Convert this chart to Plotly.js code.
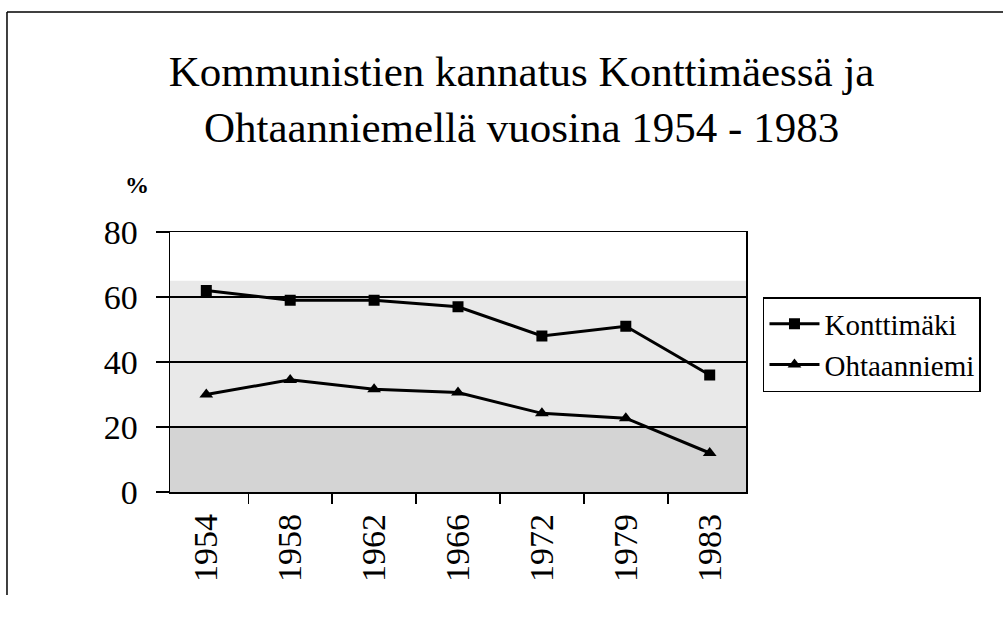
<!DOCTYPE html>
<html><head><meta charset="utf-8">
<script src="https://cdn.plot.ly/plotly-3.0.1.min.js"></script>
<style>body{margin:0;background:#fff}#c{width:1003px;height:617px}</style>
</head><body><div id="c"></div>
<script>
const years = ["1954","1958","1962","1966","1972","1979","1983"];
const konttimaki = [62, 59, 59, 57, 48, 51, 36];
const ohtaanniemi = [30, 34.5, 31.6, 30.6, 24.2, 22.7, 12];
const seriesNames = ["Konttimäki", "Ohtaanniemi"];
const titleText = "Kommunistien kannatus Konttimäessä ja<br>Ohtaanniemellä vuosina 1954 - 1983";
const yTicks = [0, 20, 40, 60, 80];

const serif = "Liberation Serif";
const traces = [
  {x: years, y: konttimaki, name: seriesNames[0], type: "scatter", mode: "lines+markers",
   line: {color: "#000", width: 3}, marker: {symbol: "square", size: 11, color: "#000"}},
  {x: years, y: ohtaanniemi, name: seriesNames[1], type: "scatter", mode: "lines+markers",
   line: {color: "#000", width: 3}, marker: {symbol: "triangle-up", size: 12, color: "#000"}}
];
const layout = {
  width: 1003, height: 617,
  margin: {l: 170, r: 257, t: 232, b: 125},
  paper_bgcolor: "#fff", plot_bgcolor: "#fff",
  font: {family: serif, color: "#000"},
  title: {text: titleText, font: {family: serif, size: 43, color: "#000"}, x: 0.52, xanchor: "center", y: 0.86, yanchor: "top"},
  showlegend: true,
  legend: {x: 1.0295, xanchor: "left", y: 0.75, yanchor: "top", bordercolor: "#000", borderwidth: 1.5,
           bgcolor: "#fff", font: {family: serif, size: 29, color: "#000"}, tracegroupgap: 8, itemwidth: 50,
           entrywidth: 260, entrywidthmode: "pixels"},
  xaxis: {type: "category", tickson: "boundaries", ticks: "outside", ticklen: 10, tickwidth: 1.5, tickcolor: "#000",
          tickangle: -90, tickfont: {family: serif, size: 34}, ticklabelstandoff: 7, showline: true, linecolor: "#000", linewidth: 1.5,
          mirror: true, showgrid: false, fixedrange: true},
  yaxis: {range: [0, 80], tickvals: yTicks, ticks: "outside", ticklen: 13, tickwidth: 1.5, tickcolor: "#000",
          tickfont: {family: serif, size: 34}, ticklabelstandoff: 11, showline: true, linecolor: "#000", linewidth: 1.5, mirror: true,
          showgrid: true, gridcolor: "#000", gridwidth: 1.5, zeroline: false, fixedrange: true},
  shapes: [
    {type: "rect", xref: "paper", yref: "y", x0: 0, x1: 1, y0: 0, y1: 20, fillcolor: "#d4d4d4", line: {width: 0}, layer: "below"},
    {type: "rect", xref: "paper", yref: "y", x0: 0, x1: 1, y0: 20, y1: 65, fillcolor: "#e9e9e9", line: {width: 0}, layer: "below"},
    {type: "line", xref: "paper", yref: "paper", x0: -0.283, x1: 1.5, y0: 1.846, y1: 1.846, line: {color: "#000", width: 1.5}},
    {type: "line", xref: "paper", yref: "paper", x0: -0.283, x1: -0.283, y0: 1.846, y1: -0.396, line: {color: "#000", width: 1.5}}
  ],
  annotations: [
    {text: "<b>%</b>", xref: "paper", yref: "paper", x: -0.082, y: 1.24, showarrow: false, font: {family: serif, size: 24}}
  ]
};
Plotly.newPlot("c", traces, layout, {displayModeBar: false, staticPlot: true});
</script></body></html>
